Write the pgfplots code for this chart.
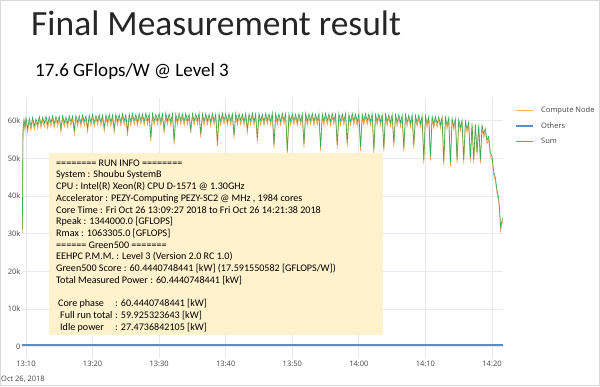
\documentclass[border=0pt]{standalone}
\usepackage{pgfplots}
\pgfplotsset{compat=1.18}
\usepackage{pgfplotstable}
\usepackage{fontspec}
\setmainfont{Carlito}
\newfontfamily\osans{Open Sans}
\definecolor{cnode}{RGB}{242,160,72}
\definecolor{csum}{RGB}{58,168,88}
\definecolor{coth}{RGB}{95,140,190}
\definecolor{gridc}{RGB}{230,233,240}
\definecolor{boxc}{RGB}{255,242,204}
\definecolor{tickc}{RGB}{70,70,70}

\pgfplotstableread{
t comp sum
-0.55 30.2 31.0
-0.45 56.6 57.6
-0.30 59.6 60.3
-0.15 57.3 58.3
0.00 60.1 60.8
0.25 56.9 57.9
0.50 59.9 60.6
0.75 57.4 58.4
1.00 60.2 60.9
1.25 57.6 58.6
1.50 59.8 60.5
1.75 57.9 58.9
2.00 60.4 61.1
2.25 58.0 59.0
2.50 60.2 60.9
2.75 58.3 59.3
3.00 60.5 61.2
3.25 57.9 58.9
3.50 60.3 61.0
3.75 58.4 59.4
4.00 60.6 61.3
4.25 58.1 59.1
4.50 60.4 61.1
4.75 58.5 59.5
5.00 60.5 61.2
5.25 56.8 57.8
5.50 60.6 61.3
5.75 58.4 59.4
6.00 60.3 61.0
6.25 58.2 59.2
6.50 60.6 61.3
6.75 58.6 59.6
7.00 60.5 61.2
7.25 56.5 57.5
7.50 60.7 61.4
7.75 58.5 59.5
8.00 60.6 61.3
8.25 58.3 59.3
8.50 60.8 61.5
8.75 58.7 59.7
9.00 60.6 61.3
9.25 57.0 58.0
9.50 60.8 61.5
9.75 58.6 59.6
10.00 60.9 61.6
10.25 58.4 59.4
10.50 60.7 61.4
10.75 58.8 59.8
11.00 60.9 61.6
11.25 58.6 59.6
11.50 60.8 61.5
11.75 57.1 58.1
12.00 60.9 61.6
12.25 58.7 59.7
12.50 61.0 61.7
12.75 58.5 59.5
13.00 60.8 61.5
13.25 56.8 57.8
13.50 61.0 61.7
13.75 58.8 59.8
14.00 60.9 61.6
14.25 58.6 59.6
14.50 61.1 61.8
14.75 58.9 59.9
15.00 60.9 61.6
15.25 56.0 57.0
15.50 61.1 61.8
15.75 58.7 59.7
16.00 61.2 61.9
16.25 58.9 59.9
16.50 61.0 61.7
16.75 58.6 59.6
17.00 61.2 61.9
17.25 59.0 60.0
17.50 61.1 61.8
17.75 58.7 59.7
18.00 61.3 62.0
18.25 58.9 59.9
18.50 61.1 61.8
18.75 54.4 55.4
19.00 61.2 61.9
19.25 58.8 59.8
19.50 61.0 61.7
19.75 59.0 60.0
20.00 61.2 61.9
20.25 58.7 59.7
20.50 61.1 61.8
20.75 56.5 57.5
21.00 61.3 62.0
21.25 58.9 59.9
21.50 61.1 61.8
21.75 58.6 59.6
22.00 61.2 61.9
22.25 53.6 54.6
22.50 61.1 61.8
22.75 58.8 59.8
23.00 61.3 62.0
23.25 59.0 60.0
23.50 61.1 61.8
23.75 58.7 59.7
24.00 61.2 61.9
24.25 58.9 59.9
24.50 61.0 61.7
24.75 56.6 57.6
25.00 61.2 61.9
25.25 58.8 59.8
25.50 61.1 61.8
25.75 59.0 60.0
26.00 61.3 62.0
26.25 55.5 56.5
26.50 61.1 61.8
26.75 58.7 59.7
27.00 61.2 61.9
27.25 58.9 59.9
27.50 61.0 61.7
27.75 58.6 59.6
28.00 61.2 61.9
28.25 58.9 59.9
28.50 61.1 61.8
28.75 53.1 54.1
29.00 61.2 61.9
29.25 58.8 59.8
29.50 61.3 62.0
29.75 59.0 60.0
30.00 61.1 61.8
30.25 58.7 59.7
30.50 61.2 61.9
30.75 58.9 59.9
31.00 61.1 61.8
31.25 55.2 56.2
31.50 61.3 62.0
31.75 58.8 59.8
32.00 61.2 61.9
32.25 59.0 60.0
32.50 61.0 61.7
32.75 58.7 59.7
33.00 61.2 61.9
33.25 56.8 57.8
33.50 61.1 61.8
33.75 58.9 59.9
34.00 61.3 62.0
34.25 58.7 59.7
34.50 61.1 61.8
34.75 54.2 55.2
35.00 61.2 61.9
35.25 58.9 59.9
35.50 61.0 61.7
35.75 58.6 59.6
36.00 61.2 61.9
36.25 59.0 60.0
36.50 61.1 61.8
36.75 58.8 59.8
37.00 61.3 62.0
37.25 52.6 53.6
37.50 61.2 61.9
37.75 58.9 59.9
38.00 61.1 61.8
38.25 58.7 59.7
38.50 61.3 62.0
38.75 59.0 60.0
39.00 61.2 61.9
39.25 51.0 52.0
39.50 61.1 61.8
39.75 58.8 59.8
40.00 61.2 61.9
40.25 58.9 59.9
40.50 61.0 61.7
40.75 58.6 59.6
41.00 61.2 61.9
41.25 58.9 59.9
41.50 61.1 61.8
41.75 52.8 53.8
42.00 61.3 62.0
42.25 58.8 59.8
42.50 61.1 61.8
42.75 59.0 60.0
43.00 61.2 61.9
43.25 58.7 59.7
43.50 61.0 61.7
43.75 58.9 59.9
44.00 61.2 61.9
44.25 52.0 53.0
44.50 61.1 61.8
44.75 58.8 59.8
45.00 61.3 62.0
45.25 58.9 59.9
45.50 61.1 61.8
45.75 58.7 59.7
46.00 61.2 61.9
46.25 59.0 60.0
46.50 61.0 61.7
46.75 52.6 53.6
47.00 61.2 61.9
47.25 58.8 59.8
47.50 61.1 61.8
47.75 58.9 59.9
48.00 61.2 61.9
48.25 53.1 54.1
48.50 61.0 61.7
48.75 58.7 59.7
49.00 61.2 61.9
49.25 58.9 59.9
49.50 61.1 61.8
49.75 58.6 59.6
50.00 61.2 61.9
50.25 52.0 53.0
50.50 61.0 61.7
50.75 58.8 59.8
51.00 61.2 61.9
51.25 58.9 59.9
51.50 61.1 61.8
51.75 58.7 59.7
52.00 61.2 61.9
52.25 51.3 52.3
52.50 61.0 61.7
52.75 58.8 59.8
53.00 61.1 61.8
53.25 58.6 59.6
53.50 61.0 61.7
53.75 51.8 52.8
54.00 61.1 61.8
54.25 58.7 59.7
54.50 60.9 61.6
54.75 58.5 59.5
55.00 61.0 61.7
55.25 53.1 54.1
55.50 60.9 61.6
55.75 58.6 59.6
56.00 60.9 61.6
56.25 58.4 59.4
56.50 60.8 61.5
56.75 51.8 52.8
57.00 60.9 61.6
57.25 58.5 59.5
57.50 60.8 61.5
57.75 58.3 59.3
58.00 60.9 61.6
58.25 52.6 53.6
58.50 60.7 61.4
58.75 58.4 59.4
59.00 60.8 61.5
59.25 58.2 59.2
59.50 60.6 61.3
59.75 48.6 49.6
60.00 60.6 61.3
60.25 58.2 59.2
60.50 60.5 61.2
60.75 49.4 50.4
61.00 60.5 61.2
61.25 58.0 59.0
61.50 60.4 61.1
61.75 58.2 59.2
62.00 60.3 61.0
62.25 57.9 58.9
62.50 60.3 61.0
62.75 48.1 49.1
63.00 60.2 60.9
63.25 57.8 58.8
63.50 60.1 60.8
63.75 47.8 48.8
64.00 59.9 60.6
64.25 57.5 58.5
64.50 59.8 60.5
64.75 48.6 49.6
65.00 59.6 60.3
65.25 57.2 58.2
65.50 59.4 60.1
65.75 48.6 49.6
66.00 59.2 59.9
66.25 56.8 57.8
66.50 58.9 59.6
66.75 49.1 50.1
67.00 58.7 59.4
67.25 48.6 49.6
67.50 58.4 59.1
67.75 50.7 51.7
68.00 58.3 59.0
68.25 48.6 49.6
68.50 58.0 58.8
68.75 55.5 56.5
69.00 57.1 57.9
69.25 53.9 54.8
69.50 55.0 55.8
69.75 50.6 51.5
70.00 49.7 50.5
70.25 45.6 46.5
70.50 44.1 45.0
70.75 40.6 41.5
71.00 38.6 39.5
71.15 35.2 36.0
71.30 30.8 31.6
71.45 32.4 33.2
71.63 33.4 34.2
}\power

\begin{document}
\begin{tikzpicture}[x=1bp,y=1bp]
\path[use as bounding box] (0,0) rectangle (600,386);
\fill[white] (0,0) rectangle (600,386);
\draw[gray!30, line width=1bp] (0.5,0.5) rectangle (599.5,385.5);
\node[anchor=base west, inner sep=0pt, font=\fontsize{35.5bp}{40bp}\selectfont, text={black!85}] at (31,351) {Final Measurement result};
\node[anchor=base west, inner sep=0pt, font=\fontsize{19bp}{22bp}\selectfont] at (35,310) {17.6 GFlops/W @ Level 3};
\begin{axis}[
  at={(22bp,28bp)}, anchor=south west,
  scale only axis, width=481bp, height=260bp,
  xmin=-0.6, xmax=71.65, ymin=-3, ymax=66,
  xtick={0,10,...,70},
  xticklabels={13:10,13:20,13:30,13:40,13:50,14:00,14:10,14:20},
  ytick={0,10,...,60},
  yticklabels={0,10k,20k,30k,40k,50k,60k},
  axis line style={draw=none},
  tick style={draw=none},
  grid=major,
  major grid style={color=gridc, line width=0.8bp},
  ticklabel style={font=\osans\fontsize{7.5bp}{9bp}\selectfont, text=tickc},
  yticklabel style={inner xsep=1.5bp},
  xticklabel style={inner ysep=3bp},
  legend style={at={(1.025,0.975)}, anchor=north west, draw=white, fill=white,
    font=\osans\fontsize{7.5bp}{9bp}\selectfont,
    inner sep=0pt, row sep=4.5bp,
    /tikz/every odd column/.append style={column sep=5.5bp}},
  legend cell align=left,
]
\addplot[color=cnode, line width=0.6bp, forget plot]
  table[x=t, y=comp] {\power};
\addplot[color=coth, line width=2bp, forget plot]
  coordinates {(-0.55,0.5) (10,0.5) (20,0.5) (30,0.5) (40,0.5) (50,0.5) (60,0.5) (71.63,0.5)};
\addplot[color=csum, line width=0.6bp, forget plot]
  table[x=t, y=sum] {\power};
\addlegendimage{color=cnode!80, line width=1.5bp}
\addlegendentry{\textcolor{tickc}{Compute Node}}
\addlegendimage{color=coth, line width=1.2bp}
\addlegendentry{\textcolor{tickc}{Others}}
\addlegendimage{color=csum!85, line width=1.5bp}
\addlegendentry{\textcolor{tickc}{Sum}}
\end{axis}
\node[anchor=west, inner sep=0pt, font=\osans\fontsize{7.5bp}{9bp}\selectfont, text=tickc] at (1,7) {Oct 26, 2018};
\fill[boxc] (49,51) rectangle (383,233);
\node[anchor=north west, inner sep=0pt, align=left, font=\fontsize{10.1bp}{11.7bp}\selectfont] at (56,226.5) {%
======== RUN INFO ========\\
System : Shoubu SystemB\\
CPU : Intel(R) Xeon(R) CPU D-1571 @ 1.30GHz\\
Accelerator : PEZY-Computing PEZY-SC2 @ MHz , 1984 cores\\
Core Time : Fri Oct 26 13:09:27 2018 to Fri Oct 26 14:21:38 2018\\
Rpeak : 1344000.0 [GFLOPS]\\
Rmax : 1063305.0 [GFLOPS]\\
====== Green500 =======\\
EEHPC P.M.M. : Level 3 (Version 2.0 RC 1.0)\\
Green500 Score : 60.4440748441 [kW] (17.591550582 [GFLOPS/W])\\
Total Measured Power : 60.4440748441 [kW]\\
\mbox{}\\
\hspace*{2bp}\makebox[57bp][l]{Core phase}: 60.4440748441 [kW]\\
\hspace*{4bp}\makebox[55bp][l]{Full run total}: 59.925323643 [kW]\\
\hspace*{4bp}\makebox[55bp][l]{Idle power}: 27.4736842105 [kW]};
\end{tikzpicture}
\end{document}
